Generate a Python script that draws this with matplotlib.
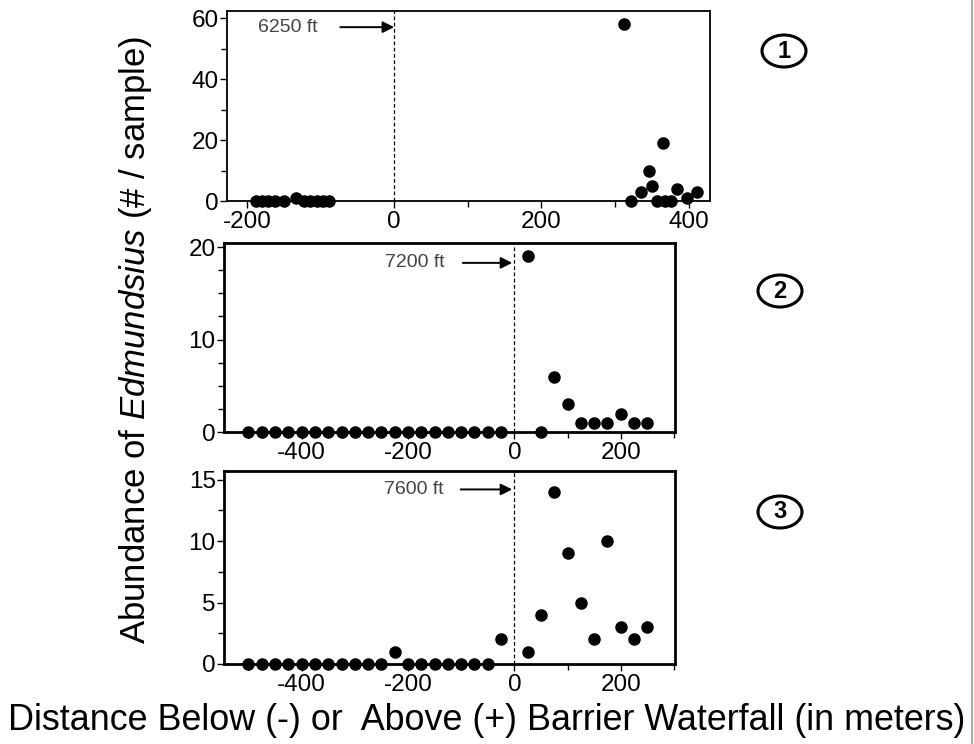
import matplotlib
matplotlib.use("Agg")
import matplotlib.pyplot as plt
from matplotlib.patches import Ellipse
from matplotlib.lines import Line2D
from matplotlib.ticker import MultipleLocator

plt.rcParams['font.family'] = ['Liberation Sans', 'DejaVu Sans']
plt.rcParams['mathtext.fontset'] = 'custom'
plt.rcParams['mathtext.rm'] = 'Liberation Sans'
plt.rcParams['mathtext.it'] = 'Liberation Sans:italic'
plt.rcParams['axes.unicode_minus'] = False

# ---- data ----
p1_x = [-188, -180, -171, -162, -150, -133, -123, -114, -105, -96, -88,
        312, 322, 335, 346, 350, 357, 365, 368, 376, 384, 398, 411]
p1_y = [0, 0, 0, 0, 0, 1, 0, 0, 0, 0, 0,
        58, 0, 3, 10, 5, 0, 19, 0, 0, 4, 1, 3]

p2_x = [-500, -475, -450, -425, -400, -375, -350, -325, -300, -275,
        -250, -225, -200, -175, -150, -125, -100, -75, -50, -25,
        25, 50, 75, 100, 125, 150, 175, 200, 225, 250]
p2_y = [0] * 20 + [19, 0, 6, 3, 1, 1, 1, 2, 1, 1]

p3_x = [-500, -475, -450, -425, -400, -375, -350, -325, -300, -275,
        -250, -225, -200, -175, -150, -125, -100, -75, -50, -25,
        25, 50, 75, 100, 125, 150, 175, 200, 225, 250]
p3_y = [0, 0, 0, 0, 0, 0, 0, 0, 0, 0,
        0, 1, 0, 0, 0, 0, 0, 0, 0, 2,
        1, 4, 14, 9, 5, 2, 10, 3, 2, 3]

elev_labels = ["6250 ft", "7200 ft", "7600 ft"]
panel_nums = ["1", "2", "3"]

W, H = 974, 744
fig = plt.figure(figsize=(W / 100, H / 100), dpi=100)

def fx(px):
    return px / W

def fy(py):
    return 1 - py / H

# axes rectangles (pixel based)
rects = [
    (227, 11, 710, 201),
    (224, 243, 675, 432),
    (224, 471, 675, 664),
]
axes = []
for (l, t, r, b) in rects:
    ax = fig.add_axes([fx(l), fy(b), fx(r) - fx(l), fy(t) - fy(b)])
    axes.append(ax)

specs = [
    dict(x=p1_x, y=p1_y, xlim=(-227, 429), ylim=(0, 62.3), xmaj=200, xmin=100,
         ymaj=20, ymin=10, lw=1.3, txt=(-145, 57), tail=(-73, 57), head=(0, 57)),
    dict(x=p2_x, y=p2_y, xlim=(-546, 302), ylim=(0, 20.45), xmaj=200, xmin=100,
         ymaj=10, ymin=2.5, lw=2.0, txt=(-188, 18.3), tail=(-97, 18.3), head=(-4, 18.3)),
    dict(x=p3_x, y=p3_y, xlim=(-546, 302), ylim=(0, 15.7), xmaj=200, xmin=100,
         ymaj=5, ymin=2.5, lw=2.0, txt=(-190, 14.2), tail=(-101, 14.2), head=(-4, 14.2)),
]

for ax, s, lab in zip(axes, specs, elev_labels):
    ax.plot(s['x'], s['y'], 'o', color='black', markersize=8, clip_on=False, zorder=5)
    ax.set_xlim(*s['xlim'])
    ax.set_ylim(*s['ylim'])
    ax.axvline(0, color='black', linestyle=(0, (3, 2)), linewidth=0.9)
    ax.xaxis.set_major_locator(MultipleLocator(s['xmaj']))
    ax.xaxis.set_minor_locator(MultipleLocator(s['xmin']))
    ax.yaxis.set_major_locator(MultipleLocator(s['ymaj']))
    ax.yaxis.set_minor_locator(MultipleLocator(s['ymin']))
    ax.tick_params(which='major', direction='out', length=5, width=1.0,
                   labelsize=17.5, pad=1)
    ax.tick_params(axis='x', which='major', pad=2)
    ax.tick_params(which='minor', direction='out', length=4, width=1.0)
    for sp in ax.spines.values():
        sp.set_linewidth(s['lw'])
    ax.text(s['txt'][0], s['txt'][1], lab, fontsize=14, color='#444444',
            ha='center', va='center')
    ax.annotate('', xy=s['head'], xytext=s['tail'],
                arrowprops=dict(arrowstyle='-|>', color='black', lw=1.4,
                                mutation_scale=17, shrinkA=0, shrinkB=0))

# circled panel numbers
centers = [(784, 51), (780, 291), (780, 512)]
for (cx, cy), n in zip(centers, panel_nums):
    e = Ellipse((fx(cx), fy(cy)), 44 / W, 32 / H, transform=fig.transFigure,
                facecolor='none', edgecolor='black', linewidth=2.2)
    fig.add_artist(e)
    fig.text(fx(cx), fy(cy), n, fontsize=17, fontweight='bold', ha='center',
             va='center')

fig.text(fx(136), fy(340), r'Abundance of $\mathit{Edmundsius}$ (# / sample)',
         rotation=90, fontsize=25, ha='center', va='center')
fig.text(fx(487), fy(720), 'Distance Below (-) or  Above (+) Barrier Waterfall (in meters)',
         fontsize=25.8, ha='center', va='center')

# thin gray frame at the right edge
fig.add_artist(Line2D([fx(972), fx(972)], [0, 1], transform=fig.transFigure,
                      color='#aaaaaa', linewidth=1.5))

fig.savefig('out.png', dpi=100)
